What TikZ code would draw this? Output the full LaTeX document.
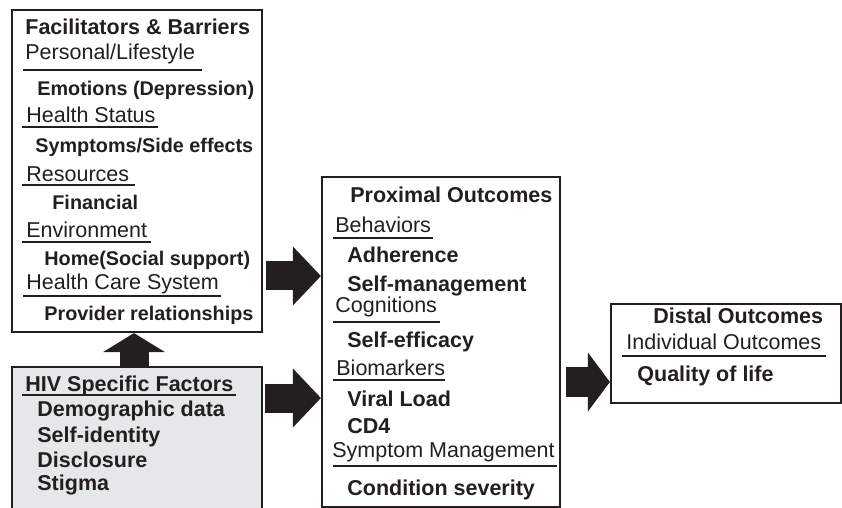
\documentclass[tikz,border=0pt]{standalone}
\usepackage{fontspec}
\setmainfont{Liberation Sans}
\definecolor{inkdark}{RGB}{35, 31, 32}
\definecolor{hivgray}{RGB}{230, 231, 232}
\usepackage{tikz}
\usetikzlibrary{arrows.meta, positioning}

\tikzset{
  boxframe/.style={draw=inkdark, line width=1.1pt, inner sep=0pt},
  heading/.style={anchor=base west, inner sep=0pt, text=inkdark, font=\fontsize{10.75}{13}\selectfont\bfseries},
  topic/.style={anchor=base west, inner sep=0pt, text=inkdark, font=\fontsize{10.75}{13}\selectfont},
  item/.style={anchor=base west, inner sep=0pt, text=inkdark, font=\fontsize{10.75}{13}\selectfont\bfseries},
  smallitem/.style={item, font=\fontsize{9.9}{12}\selectfont\bfseries},
  topicrule/.style={draw=inkdark, line width=0.8pt},
  fatarrow/.style={draw=inkdark, line width=14.5pt, -{Triangle[length=#1, width=29.5pt, line width=0pt]}},
  fatarrow/.default=14pt
}

\begin{document}
\begin{tikzpicture}[x=0.5pt, y=-0.5pt]
  \fill[white] (0,0) rectangle (842,508);
  \useasboundingbox (0,0) rectangle (842,508);

  % boxes
  \node[boxframe, minimum width=125pt, minimum height=161pt] (fac) at (137,171) {};
  \node[boxframe, fill=hivgray, line width=0.6pt, minimum width=125pt, minimum height=74pt] (hiv) at (137,441) {};
  \node[boxframe, minimum width=119pt, minimum height=165pt] (prox) at (441,342) {};
  \node[boxframe, minimum width=115pt, minimum height=49.5pt] (dist) at (726,353.5) {};

  % facilitators and barriers
  \node[heading] (facTitle) at (25,35) {Facilitators \& Barriers};
  \node[topic] (facPersonal) at (25,60) {Personal/Lifestyle};
  \draw[topicrule] (23,70) -- (202,70);
  \node[smallitem] (facEmotions) at (37,96) {Emotions (Depression)};
  \node[topic] (facHealth) at (26,123) {Health Status};
  \draw[topicrule] (22,127) -- (158,127);
  \node[smallitem] (facSymptoms) at (35,153) {Symptoms/Side effects};
  \node[topic] (facResources) at (26,182) {Resources};
  \draw[topicrule] (22,185) -- (135,185);
  \node[smallitem] (facFinancial) at (52,210) {Financial};
  \node[topic] (facEnvironment) at (26,238) {Environment};
  \draw[topicrule] (22,242) -- (151,242);
  \node[smallitem] (facHome) at (44,265) {Home(Social support)};
  \node[topic] (facCare) at (26,290) {Health Care System};
  \draw[topicrule] (23,296) -- (221,296);
  \node[smallitem] (facProvider) at (44,321) {Provider relationships};

  % HIV specific factors
  \node[heading] (hivTitle) at (25,391) {HIV Specific Factors};
  \draw[topicrule] (22,395) -- (236,395);
  \node[item] (hivDemo) at (37,416) {Demographic data};
  \node[item] (hivIdentity) at (37,442) {Self-identity};
  \node[item] (hivDisclosure) at (37,467) {Disclosure};
  \node[item] (hivStigma) at (37,490) {Stigma};

  % proximal outcomes
  \node[heading] (proxTitle) at (350,203) {Proximal Outcomes};
  \node[topic] (proxBehaviors) at (335,233) {Behaviors};
  \draw[topicrule] (333,238) -- (433,238);
  \node[item] (proxAdherence) at (347,263) {Adherence};
  \node[item] (proxSelfman) at (347,292) {Self-management};
  \node[topic] (proxCognitions) at (335,313) {Cognitions};
  \draw[topicrule] (333,322) -- (440,322);
  \node[item] (proxEfficacy) at (347,347) {Self-efficacy};
  \node[topic] (proxBiomarkers) at (336,375) {Biomarkers};
  \draw[topicrule] (333,380) -- (445,380);
  \node[item] (proxViral) at (347,406) {Viral Load};
  \node[item] (proxCD) at (347,433) {CD4};
  \node[topic] (proxSymptom) at (332,457) {Symptom Management};
  \draw[topicrule] (333,466) -- (557,466);
  \node[item] (proxSeverity) at (347,495) {Condition severity};

  % distal outcomes
  \node[heading] (distTitle) at (653,323) {Distal Outcomes};
  \node[topic] (distIndividual) at (626,350) {Individual Outcomes};
  \draw[topicrule] (622,356) -- (826,356);
  \node[item] (distQuality) at (637,381) {Quality of life};

  % block arrows
  \draw[fatarrow, shorten <=1.2pt] (fac.east |- 0,276) -- (prox.west |- 0,276);
  \draw[fatarrow, shorten <=1.2pt] (hiv.east |- 0,398) -- (prox.west |- 0,398);
  \draw[fatarrow=11pt, line width=15pt, shorten <=2.5pt] (prox.east |- 0,382) -- (dist.west |- 0,382);
  \draw[fatarrow=9.5pt, -{Triangle[length=9.5pt, width=31pt, line width=0pt]}] (hiv.north -| 134,0) -- (fac.south -| 134,0);
\end{tikzpicture}
\end{document}
